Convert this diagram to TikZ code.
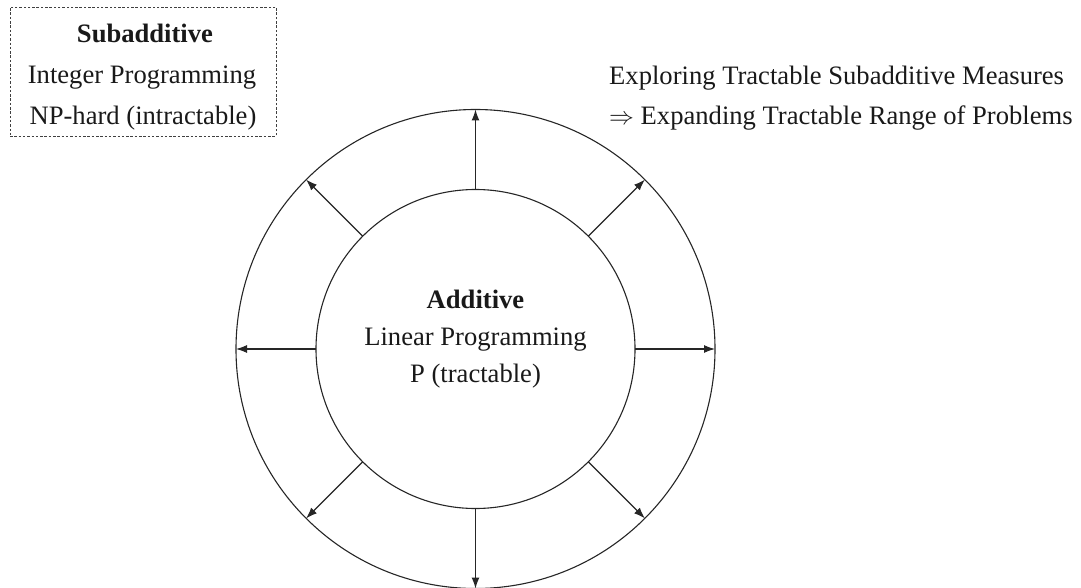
\documentclass[tikz,border=0pt]{standalone}
\usepackage{fontspec}
\setmainfont{Liberation Serif}
\usetikzlibrary{arrows.meta}
\begin{document}
\begin{tikzpicture}[x=1pt,y=-1pt,
  txt/.style={inner sep=0pt, anchor=base, font=\fontsize{26.6}{32}\selectfont, text=black!90},
  txtl/.style={txt, anchor=base west},
  ring/.style={circle, draw=black!85, line width=1.1pt, inner sep=0pt, outer sep=0pt},
  outarrow/.style={draw=black!85, line width=1.1pt, -{Latex[length=11pt,width=8pt]}},
  dbox/.style={draw=black!75, line width=0.9pt, dash pattern=on 2.5pt off 1.8pt, inner sep=0pt, outer sep=0pt}]
\useasboundingbox (0,0) rectangle (1081,588);
% dashed box
\node[dbox, minimum width=266pt, minimum height=129pt] (box) at (143,71.5) {};
\node[txt, font=\fontsize{26.6}{32}\selectfont\bfseries] (sub) at (145,43) {Subadditive};
\node[txt] (ip) at (142,84) {Integer Programming};
\node[txt] (np) at (143,125) {NP-hard (intractable)};
% right text
\node[txtl] (expl) at (609,85) {Exploring Tractable Subadditive Measures};
\node[txtl] (expa) at (609,125) {$\Rightarrow$ Expanding Tractable Range of Problems};
% circles
\node[ring, minimum size=479pt] (outer) at (475.5,349) {};
\node[ring, minimum size=319pt] (inner) at (475.5,349) {};
% arrows
\foreach \a in {0,45,...,315}{
  \draw[outarrow] (inner.\a) -- (outer.\a);
}
% center text
\node[txt, font=\fontsize{26.6}{32}\selectfont\bfseries] (add) at (475.5,308) {Additive};
\node[txt] (lp) at (475.5,345) {Linear Programming};
\node[txt] (pt) at (475.5,382) {P (tractable)};
\end{tikzpicture}
\end{document}
